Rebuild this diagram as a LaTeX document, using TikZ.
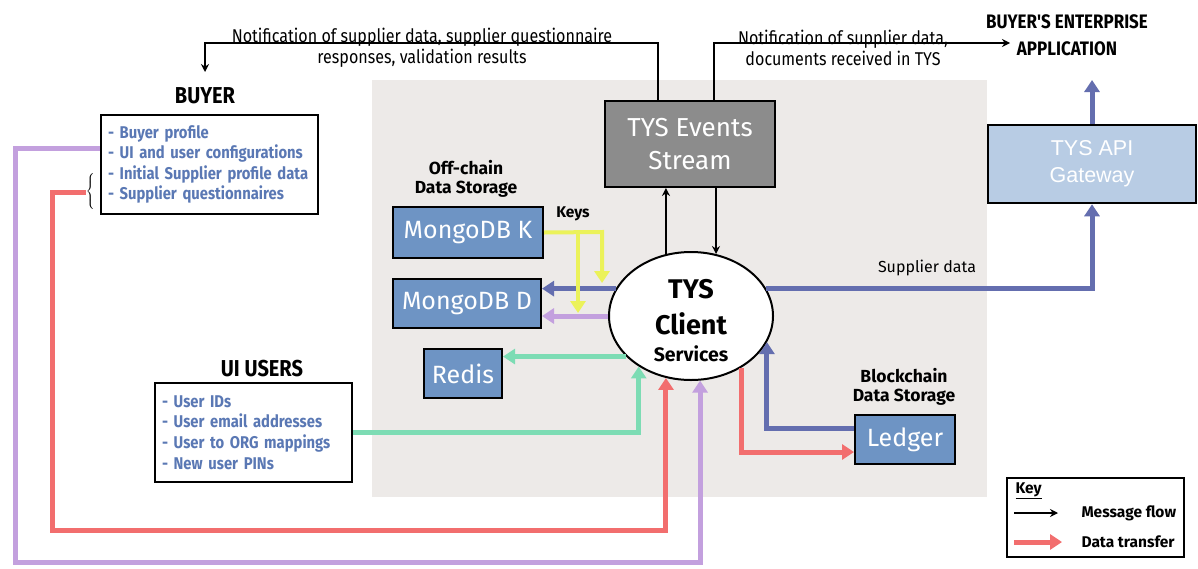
\documentclass[tikz,border=0pt]{standalone}
\usepackage{fontspec}
\setmainfont{Fira Sans}
\newfontfamily\cf[FakeStretch=0.87]{Fira Sans}
\newfontfamily\arial{Liberation Sans}
\usetikzlibrary{arrows.meta,shapes.geometric,calc}
\definecolor{bgc}{RGB}{237,234,232}
\definecolor{sboxc}{RGB}{110,148,196}
\definecolor{evc}{RGB}{140,140,140}
\definecolor{gwc}{RGB}{184,204,228}
\definecolor{bluec}{RGB}{100,110,175}
\definecolor{redc}{RGB}{242,110,110}
\definecolor{purc}{RGB}{195,160,222}
\definecolor{grnc}{RGB}{125,220,180}
\definecolor{yelc}{RGB}{235,242,90}
\definecolor{btxt}{RGB}{90,120,180}
\tikzset{
  sbox/.style={draw=black, line width=2pt, fill=sboxc, text=white, font=\fontsize{25}{27}\selectfont, inner sep=0pt},
  listbox/.style={draw=black, line width=2pt, fill=white, align=left, text=btxt, font=\cf\bfseries\fontsize{17}{20.6}\selectfont, inner sep=0pt},
  title/.style={font=\cf\bfseries\fontsize{23}{27}\selectfont, align=center},
  small/.style={font=\bfseries\fontsize{17.5}{19}\selectfont, align=center},
  lbl/.style={font=\cf\fontsize{18.5}{21}\selectfont, align=center},
  keytxt/.style={font=\bfseries\fontsize{15.5}{17}\selectfont},
  msg/.style={draw=black, line width=1.6pt, -{Stealth[length=8pt,width=8pt]}},
  data/.style={line width=5pt, -{Triangle[length=12pt,width=15pt]}},
}
\begin{document}
\begin{tikzpicture}[x=1pt,y=-1pt]
\useasboundingbox (0,0) rectangle (1198,568);
\fill[white] (0,0) rectangle (1198,568);
\fill[bgc] (372,80) rectangle (987,497);

% nodes
\node[draw=black, line width=2pt, fill=evc, text=white, minimum width=170pt, minimum height=86pt, align=center, font=\fontsize{26}{33}\selectfont] (events) at (690,144) {TYS Events\\Stream};
\node[draw=black, line width=2.5pt, fill=gwc, text=white, minimum width=208pt, minimum height=78pt, align=center, font=\arial\fontsize{21.5}{27}\selectfont] (gateway) at (1092,164) {TYS API\\Gateway};
\node[sbox, minimum width=150pt, minimum height=51pt] (mongoK) at (468,232.5) {MongoDB K};
\node[sbox, minimum width=148pt, minimum height=49pt] (mongoD) at (467,303.5) {MongoDB D};
\node[sbox, minimum width=78pt, minimum height=49pt] (redis) at (463,373.5) {Redis};
\node[sbox, minimum width=100pt, minimum height=49pt] (ledger) at (905,439.5) {Ledger};
\node[draw=black, line width=2pt, fill=white, ellipse, minimum width=164pt, minimum height=128pt, inner sep=0pt, align=center] (client) at (691,316) {};
\node[font=\bfseries\fontsize{27}{30}\selectfont] (tys) at (691,289) {TYS};
\node[font=\bfseries\fontsize{27}{30}\selectfont] (clienttxt) at (691,324) {Client};
\node[font=\bfseries\fontsize{19.5}{21}\selectfont] (services) at (691,354) {Services};

\node[listbox, minimum width=217pt, minimum height=99pt, text width=203pt] (buyer) at (209.5,164.5) {\mbox{- Buyer profile}\\\mbox{- UI and user configurations}\\\mbox{- Initial Supplier profile data}\\\mbox{- Supplier questionnaires}};
\node[listbox, minimum width=197pt, minimum height=99pt, text width=183pt] (uiusers) at (253.5,432.5) {\mbox{- User IDs}\\\mbox{- User email addresses}\\\mbox{- User to ORG mappings}\\\mbox{- New user PINs}};
\node[inner sep=0pt] (brace) at (91,192) {$\left\{\rule[-17pt]{0pt}{34pt}\right.$};

\node[title] (buyertitle) at (205,96) {BUYER};
\node[title] (uititle) at (262,369) {UI USERS};
\node[title, font=\cf\bfseries\fontsize{19.5}{27}\selectfont] (enttitle) at (1067,35) {BUYER'S ENTERPRISE\\APPLICATION};
\node[small] (offchain) at (466,179) {Off-chain\\Data Storage};
\node[small] (blockchain) at (904,387) {Blockchain\\Data Storage};
\node[font=\bfseries\fontsize{15.5}{17}\selectfont] (keys) at (573,214) {Keys};
\node[font=\fontsize{16}{18}\selectfont] (supdata) at (927,268) {Supplier data};
\node[lbl] (notif1) at (422,47.5) {Notification of supplier data, supplier questionnaire\\responses, validation results};
\node[lbl] (notif2) at (843,47.5) {Notification of supplier data,\\documents received in TYS};

% coordinates
\coordinate (n1) at (658,43);
\coordinate (b1) at (205,72);
\coordinate (n2) at (714,43);
\coordinate (n3) at (1010,43);
\coordinate (g1) at (1092,80);
\coordinate (k1) at (602,232);
\coordinate (k2) at (602,283);
\coordinate (k3) at (578,232);
\coordinate (k4) at (578,313);
\coordinate (r1) at (52,530);
\coordinate (p1) at (15,562);

% black message flows
\draw[msg] (client.112) -- (client.112 |- events.south);
\draw[msg] (events.south -| client.68) -- (client.68);
\draw[msg] (events.north -| n1) -- (n1) -| (b1);
\draw[msg] (events.north -| n2) -- (n2) -- (n3);

% data flows
\draw[data, bluec] (gateway.north) -- (g1);
\draw[data, bluec] (client.20) -| (gateway.south);
\draw[data, bluec] (client.160) -- (client.160 -| mongoD.east);
\draw[data, purc] (client.west) -- (client.west -| mongoD.east);
\draw[data, yelc, line width=4pt] (mongoK.east) -- (k1) -- (k2);
\draw[data, yelc, line width=4pt] (k3) -- (k4);
\draw[data, grnc] (client.212) -- (client.212 -| redis.east);
\draw[data, grnc] (uiusers.east) -| (client.224);
\draw[data, redc] (brace.west) -| (r1) -| (client.248);
\draw[data, purc] ([yshift=16.5pt]buyer.west) -| (p1) -| (client.278);
\draw[data, redc] (client.314) |- ([yshift=-12.5pt]ledger.west);
\draw[data, bluec] ([yshift=11.5pt]ledger.west) -| (client.341);

% key
\node[draw=black, line width=1.5pt, fill=white, minimum width=177pt, minimum height=79pt] (key) at (1095.5,517.5) {};
\node[keytxt, anchor=west] (keytitle) at (1012,491) {\underline{Key}};
\node[keytxt, anchor=west] (mf) at (1078,513) {Message flow};
\node[keytxt, anchor=west] (dt) at (1078,542) {Data transfer};
\coordinate (ka) at (1014,513);
\coordinate (kb) at (1014,542);
\draw[msg] (ka) -- (ka -| 1058,0);
\draw[data, redc] (kb) -- (kb -| 1062,0);
\end{tikzpicture}
\end{document}
